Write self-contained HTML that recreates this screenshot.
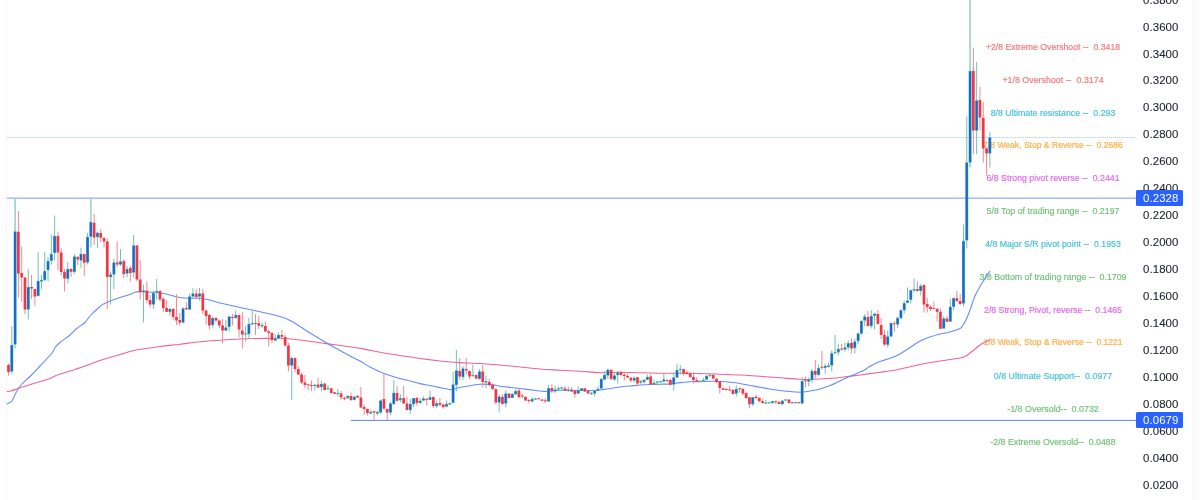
<!DOCTYPE html><html><head><meta charset="utf-8"><title>Chart</title><style>
html,body{margin:0;padding:0;background:#fff;}
.ax,.lb{will-change:transform;transform:translateZ(0);}
body{width:1200px;height:500px;overflow:hidden;position:relative;font-family:"Liberation Sans",sans-serif;}
.ax{position:absolute;left:1143.2px;width:44px;height:14px;line-height:14px;font-size:11.4px;color:#1f232e;white-space:pre;letter-spacing:0.1px;-webkit-text-stroke:0.12px currentColor}
.lb{position:absolute;left:953px;width:200px;text-align:center;height:12px;line-height:12px;font-size:8.6px;white-space:pre;-webkit-text-stroke:0.18px currentColor;}
.lb span{display:inline-block;transform-origin:50% 50%;}
.tag{position:absolute;left:1136px;width:47px;height:15.5px;background:#2962ff;border-radius:1.5px;}
</style></head><body>
<div class="ax" style="top:-6.6px">0.3800</div>
<div class="ax" style="top:20.4px">0.3600</div>
<div class="ax" style="top:47.4px">0.3400</div>
<div class="ax" style="top:73.4px">0.3200</div>
<div class="ax" style="top:100.4px">0.3000</div>
<div class="ax" style="top:127.4px">0.2800</div>
<div class="ax" style="top:154.4px">0.2600</div>
<div class="ax" style="top:181.4px">0.2400</div>
<div class="ax" style="top:208.4px">0.2200</div>
<div class="ax" style="top:235.4px">0.2000</div>
<div class="ax" style="top:262.4px">0.1800</div>
<div class="ax" style="top:289.4px">0.1600</div>
<div class="ax" style="top:316.4px">0.1400</div>
<div class="ax" style="top:343.4px">0.1200</div>
<div class="ax" style="top:370.4px">0.1000</div>
<div class="ax" style="top:397.4px">0.0800</div>
<div class="ax" style="top:424.4px">0.0600</div>
<div class="ax" style="top:451.4px">0.0400</div>
<div class="ax" style="top:478.4px">0.0200</div>
<div class="lb" style="top:40px;color:#f7767b;font-size:8.719px;transform:translate3d(0,0.50px,0)"><span>+2/8 Extreme Overshoot --  0.3418</span></div>
<div class="lb" style="top:73px;color:#f7767b;font-size:8.865px;transform:translate3d(0,0.50px,0)"><span>+1/8 Overshoot --  0.3174</span></div>
<div class="lb" style="top:106px;color:#46c1d8;font-size:8.811px;transform:translate3d(0,0.50px,0)"><span>8/8 Ultimate resistance --  0.293</span></div>
<div class="lb" style="top:139px;color:#ffad44;font-size:8.570px;transform:translate3d(0,0.10px,0)"><span>7/8 Weak, Stop &amp; Reverse --  0.2686</span></div>
<div class="lb" style="top:171px;color:#e267f1;font-size:8.770px;transform:translate3d(0,0.90px,0)"><span>6/8 Strong pivot reverse --  0.2441</span></div>
<div class="lb" style="top:204px;color:#71c278;font-size:8.812px;transform:translate3d(0,0.90px,0)"><span>5/8 Top of trading range --  0.2197</span></div>
<div class="lb" style="top:237px;color:#46c1d8;font-size:8.750px;transform:translate3d(0,0.90px,0)"><span>4/8 Major S/R pivot point --  0.1953</span></div>
<div class="lb" style="top:270px;color:#71c278;font-size:8.820px;transform:translate3d(0,0.90px,0)"><span>3/8 Bottom of trading range --  0.1709</span></div>
<div class="lb" style="top:303px;color:#e267f1;font-size:8.717px;transform:translate3d(0,0.50px,0)"><span>2/8 Strong, Pivot, reverse --  0.1465</span></div>
<div class="lb" style="top:336px;color:#ffad44;font-size:8.521px;transform:translate3d(0,0.10px,0)"><span>1/8 Weak, Stop &amp; Reverse --  0.1221</span></div>
<div class="lb" style="top:369px;color:#46c1d8;font-size:8.845px;transform:translate3d(0,0.50px,0)"><span>0/8 Ultimate Support--  0.0977</span></div>
<div class="lb" style="top:402px;color:#71c278;font-size:8.914px;transform:translate3d(0,0.50px,0)"><span>-1/8 Oversold--  0.0732</span></div>
<div class="lb" style="top:435px;color:#71c278;font-size:8.785px;transform:translate3d(0,0.50px,0)"><span>-2/8 Extreme Oversold--  0.0488</span></div>
<svg width="1200" height="500" viewBox="0 0 1200 500" style="position:absolute;left:0;top:0">
<rect x="6" y="0" width="1" height="500" fill="#f6f6f7"/>
<rect x="1194" y="0" width="6" height="500" fill="#fcfcfc"/><rect x="1193" y="0" width="1" height="500" fill="#f2f2f3"/>
<rect x="7" y="137" width="1129" height="1" fill="#eaeffe"/><line x1="7" y1="137.5" x2="1136" y2="137.5" stroke="#bfcdfb" stroke-width="1" stroke-dasharray="1 1"/>
<rect x="7" y="197.4" width="1129" height="1.6" fill="#a9befc"/>
<rect x="351" y="419.85" width="785" height="1.15" fill="#7093fb"/>
<path d="M7.0 391.5 C7.7 391.4 8.8 391.6 11.0 391.0 C13.2 390.4 16.0 389.1 20.0 387.8 C24.0 386.5 30.0 384.6 35.0 383.0 C40.0 381.4 46.5 379.8 50.0 378.5 C53.5 377.2 52.7 376.8 56.0 375.5 C59.3 374.2 65.2 372.6 70.0 371.0 C74.8 369.4 80.0 367.8 85.0 366.0 C90.0 364.2 94.2 362.4 100.0 360.5 C105.8 358.6 113.8 356.3 120.0 354.5 C126.2 352.7 130.3 351.1 137.0 349.8 C143.7 348.5 152.8 347.4 160.0 346.5 C167.2 345.6 173.3 345.0 180.0 344.2 C186.7 343.4 193.3 342.5 200.0 341.8 C206.7 341.1 213.3 340.7 220.0 340.2 C226.7 339.7 233.3 339.3 240.0 339.0 C246.7 338.7 253.3 338.6 260.0 338.5 C266.7 338.4 273.3 338.1 280.0 338.3 C286.7 338.6 293.3 339.3 300.0 340.0 C306.7 340.7 313.3 341.8 320.0 342.7 C326.7 343.6 333.3 344.6 340.0 345.5 C346.7 346.4 353.3 347.3 360.0 348.4 C366.7 349.5 373.3 351.1 380.0 352.3 C386.7 353.5 393.3 354.5 400.0 355.5 C406.7 356.5 413.3 357.6 420.0 358.5 C426.7 359.4 435.0 360.4 440.0 361.0 C445.0 361.6 446.7 361.7 450.0 362.0 C453.3 362.3 455.0 362.4 460.0 362.6 C465.0 362.9 473.3 363.1 480.0 363.5 C486.7 363.9 493.3 364.4 500.0 365.0 C506.7 365.6 513.3 366.3 520.0 367.0 C526.7 367.7 533.3 368.5 540.0 369.0 C546.7 369.5 553.3 369.8 560.0 370.2 C566.7 370.6 573.3 370.9 580.0 371.3 C586.7 371.7 593.3 372.5 600.0 372.7 C606.7 372.9 613.3 372.3 620.0 372.3 C626.7 372.3 633.3 372.7 640.0 372.8 C646.7 372.9 653.3 373.1 660.0 373.2 C666.7 373.3 673.3 373.1 680.0 373.2 C686.7 373.2 693.3 373.3 700.0 373.5 C706.7 373.7 713.3 373.9 720.0 374.2 C726.7 374.4 733.3 374.6 740.0 375.0 C746.7 375.4 753.3 375.8 760.0 376.3 C766.7 376.8 773.3 377.3 780.0 377.8 C786.7 378.3 795.0 379.0 800.0 379.3 C805.0 379.6 806.7 379.6 810.0 379.5 C813.3 379.4 816.7 379.2 820.0 379.0 C823.3 378.8 826.7 378.6 830.0 378.3 C833.3 378.1 835.0 378.1 840.0 377.5 C845.0 376.9 853.3 375.9 860.0 375.0 C866.7 374.1 874.0 373.1 880.0 372.3 C886.0 371.5 891.0 370.9 896.0 370.0 C901.0 369.1 906.0 367.7 910.0 366.8 C914.0 365.9 915.0 365.5 920.0 364.5 C925.0 363.5 933.3 362.1 940.0 361.0 C946.7 359.9 955.7 358.8 960.0 358.0 C964.3 357.2 964.3 356.8 966.0 356.0 C967.7 355.2 968.5 354.2 970.0 353.0 C971.5 351.8 973.3 350.3 975.0 349.0 C976.7 347.7 978.3 346.2 980.0 345.0 C981.7 343.8 983.3 342.9 985.0 342.0 C986.7 341.1 989.2 340.2 990.0 339.8" fill="none" stroke="#f06491" stroke-width="1.1"/>
<path d="M7.0 404.0 C7.8 403.5 10.7 402.6 12.0 401.0 C13.3 399.4 13.5 397.2 15.0 394.5 C16.5 391.8 18.5 388.0 21.0 385.0 C23.5 382.0 26.8 379.7 30.0 376.5 C33.2 373.3 36.3 369.9 40.0 366.0 C43.7 362.1 49.5 356.1 52.0 353.0 C54.5 349.9 53.7 349.2 55.0 347.5 C56.3 345.8 57.5 344.6 60.0 342.5 C62.5 340.4 67.3 337.2 70.0 335.0 C72.7 332.8 73.5 331.1 76.0 329.0 C78.5 326.9 82.7 324.7 85.0 322.5 C87.3 320.3 87.5 318.7 90.0 316.0 C92.5 313.3 97.5 308.6 100.0 306.5 C102.5 304.4 101.7 304.7 105.0 303.2 C108.3 301.7 115.8 298.9 120.0 297.5 C124.2 296.1 127.5 295.4 130.0 294.5 C132.5 293.6 133.3 292.8 135.0 292.3 C136.7 291.8 137.5 291.6 140.0 291.6 C142.5 291.6 146.7 292.0 150.0 292.2 C153.3 292.4 156.7 292.5 160.0 293.0 C163.3 293.5 166.7 294.2 170.0 295.0 C173.3 295.8 176.7 296.9 180.0 297.5 C183.3 298.1 186.7 298.2 190.0 298.3 C193.3 298.4 196.7 297.9 200.0 298.2 C203.3 298.5 206.7 299.2 210.0 300.0 C213.3 300.8 216.7 302.1 220.0 303.0 C223.3 303.9 226.7 304.4 230.0 305.2 C233.3 305.9 236.3 306.7 240.0 307.5 C243.7 308.3 247.0 308.9 252.0 310.0 C257.0 311.1 264.7 312.7 270.0 314.0 C275.3 315.3 280.3 316.6 284.0 317.8 C287.7 319.1 289.3 320.1 292.0 321.5 C294.7 322.9 297.0 324.6 300.0 326.5 C303.0 328.4 306.7 330.9 310.0 333.0 C313.3 335.1 316.7 337.0 320.0 339.0 C323.3 341.0 326.7 343.1 330.0 345.0 C333.3 346.9 336.7 348.7 340.0 350.5 C343.3 352.3 346.7 354.2 350.0 356.0 C353.3 357.8 356.7 359.2 360.0 361.0 C363.3 362.8 366.0 364.9 370.0 367.0 C374.0 369.1 379.0 371.6 384.0 373.5 C389.0 375.4 395.7 377.2 400.0 378.5 C404.3 379.8 406.7 380.1 410.0 381.0 C413.3 381.9 416.7 382.9 420.0 383.6 C423.3 384.4 426.7 384.8 430.0 385.5 C433.3 386.2 436.7 386.9 440.0 387.6 C443.3 388.3 447.8 389.3 450.0 389.6 C452.2 389.9 451.3 389.9 453.0 389.5 C454.7 389.1 457.2 388.1 460.0 387.5 C462.8 386.9 466.7 386.4 470.0 385.8 C473.3 385.2 476.3 384.4 480.0 384.2 C483.7 384.0 488.7 384.3 492.0 384.6 C495.3 384.9 495.3 385.6 500.0 386.2 C504.7 386.8 513.3 387.7 520.0 388.5 C526.7 389.3 535.5 390.5 540.0 391.0 C544.5 391.5 545.0 391.5 547.0 391.5 C549.0 391.5 549.8 391.2 552.0 391.0 C554.2 390.8 555.3 390.4 560.0 390.3 C564.7 390.2 575.0 390.5 580.0 390.5 C585.0 390.5 586.7 390.6 590.0 390.5 C593.3 390.4 596.7 390.3 600.0 390.0 C603.3 389.7 606.7 389.0 610.0 388.5 C613.3 388.0 616.7 387.4 620.0 387.0 C623.3 386.6 626.7 386.3 630.0 386.0 C633.3 385.7 636.7 385.2 640.0 385.0 C643.3 384.8 646.7 384.6 650.0 384.5 C653.3 384.4 656.7 384.3 660.0 384.2 C663.3 384.1 666.7 384.3 670.0 384.0 C673.3 383.7 676.7 383.0 680.0 382.6 C683.3 382.2 686.7 382.0 690.0 381.8 C693.3 381.6 696.7 381.6 700.0 381.5 C703.3 381.4 706.7 381.2 710.0 381.2 C713.3 381.2 716.7 381.3 720.0 381.5 C723.3 381.7 726.7 381.9 730.0 382.2 C733.3 382.5 736.7 382.9 740.0 383.5 C743.3 384.1 746.7 384.9 750.0 385.5 C753.3 386.1 756.7 386.6 760.0 387.2 C763.3 387.8 766.7 388.4 770.0 389.0 C773.3 389.6 776.7 390.1 780.0 390.5 C783.3 390.9 786.7 391.2 790.0 391.5 C793.3 391.8 797.5 392.1 800.0 392.2 C802.5 392.2 803.3 392.0 805.0 391.8 C806.7 391.6 807.5 391.5 810.0 391.0 C812.5 390.5 816.7 389.9 820.0 389.0 C823.3 388.1 826.7 386.8 830.0 385.5 C833.3 384.2 836.7 382.5 840.0 381.0 C843.3 379.5 845.9 378.1 850.0 376.3 C854.1 374.5 861.2 371.7 864.5 370.0 C867.8 368.3 867.4 367.7 870.0 366.3 C872.6 364.9 876.7 362.8 880.0 361.5 C883.3 360.2 886.7 359.6 890.0 358.3 C893.3 357.1 896.7 355.8 900.0 354.0 C903.3 352.2 906.7 349.7 910.0 347.5 C913.3 345.3 916.7 342.8 920.0 341.0 C923.3 339.2 926.7 338.2 930.0 337.0 C933.3 335.8 937.0 334.8 940.0 334.0 C943.0 333.2 944.7 333.4 948.0 332.5 C951.3 331.6 957.5 329.8 960.0 328.5 C962.5 327.2 962.0 326.4 963.0 325.0 C964.0 323.6 964.8 322.5 966.0 320.0 C967.2 317.5 968.5 314.0 970.0 310.0 C971.5 306.0 973.3 299.9 975.0 296.0 C976.7 292.1 978.3 289.4 980.0 286.5 C981.7 283.6 983.3 281.1 985.0 278.5 C986.7 275.9 989.2 272.2 990.0 271.0" fill="none" stroke="#648cfb" stroke-width="1.1"/>
<rect x="8.01" y="363.5" width="1.0" height="12.0" fill="#f48792"/>
<rect x="11.31" y="326.0" width="1.0" height="48.0" fill="#72c2b2"/>
<rect x="14.20" y="198.0" width="1.8" height="150.5" fill="#a3d8cc"/>
<rect x="17.89" y="211.0" width="1.0" height="86.5" fill="#f48792"/>
<rect x="21.19" y="246.5" width="1.0" height="55.0" fill="#f48792"/>
<rect x="24.48" y="277.0" width="1.0" height="37.0" fill="#f48792"/>
<rect x="27.77" y="269.0" width="1.0" height="50.5" fill="#72c2b2"/>
<rect x="31.06" y="275.0" width="1.0" height="24.0" fill="#f48792"/>
<rect x="34.36" y="289.0" width="1.0" height="16.5" fill="#f48792"/>
<rect x="37.65" y="252.0" width="1.0" height="44.0" fill="#72c2b2"/>
<rect x="40.94" y="275.0" width="1.0" height="14.5" fill="#72c2b2"/>
<rect x="44.24" y="252.0" width="1.0" height="29.0" fill="#72c2b2"/>
<rect x="47.53" y="257.0" width="1.0" height="24.5" fill="#72c2b2"/>
<rect x="50.82" y="234.5" width="1.0" height="30.0" fill="#72c2b2"/>
<rect x="54.12" y="215.5" width="1.0" height="45.0" fill="#72c2b2"/>
<rect x="57.41" y="232.0" width="1.0" height="38.0" fill="#f48792"/>
<rect x="60.70" y="248.5" width="1.0" height="27.0" fill="#f48792"/>
<rect x="64.00" y="269.0" width="1.0" height="22.5" fill="#f48792"/>
<rect x="67.29" y="262.0" width="1.0" height="21.5" fill="#72c2b2"/>
<rect x="70.58" y="268.0" width="1.0" height="9.0" fill="#f48792"/>
<rect x="73.87" y="254.0" width="1.0" height="20.0" fill="#72c2b2"/>
<rect x="77.17" y="256.8" width="1.0" height="8.2" fill="#f48792"/>
<rect x="80.46" y="247.5" width="1.0" height="20.5" fill="#72c2b2"/>
<rect x="83.75" y="254.0" width="1.0" height="22.0" fill="#f48792"/>
<rect x="87.05" y="233.0" width="1.0" height="31.5" fill="#72c2b2"/>
<rect x="89.94" y="197.5" width="1.8" height="50.0" fill="#a3d8cc"/>
<rect x="93.63" y="214.0" width="1.0" height="31.0" fill="#f48792"/>
<rect x="96.92" y="231.5" width="1.0" height="16.5" fill="#72c2b2"/>
<rect x="100.22" y="229.0" width="1.0" height="13.0" fill="#f48792"/>
<rect x="103.51" y="237.0" width="1.0" height="10.5" fill="#f48792"/>
<rect x="106.80" y="238.5" width="1.0" height="70.5" fill="#f48792"/>
<rect x="110.10" y="271.5" width="1.0" height="33.0" fill="#72c2b2"/>
<rect x="113.39" y="258.5" width="1.0" height="30.5" fill="#72c2b2"/>
<rect x="116.68" y="241.5" width="1.0" height="25.5" fill="#f48792"/>
<rect x="119.98" y="249.0" width="1.0" height="17.0" fill="#72c2b2"/>
<rect x="123.27" y="259.0" width="1.0" height="19.0" fill="#f48792"/>
<rect x="126.56" y="266.0" width="1.0" height="11.5" fill="#72c2b2"/>
<rect x="129.86" y="266.0" width="1.0" height="15.5" fill="#f48792"/>
<rect x="133.15" y="235.0" width="1.0" height="42.5" fill="#72c2b2"/>
<rect x="136.44" y="245.0" width="1.0" height="36.0" fill="#f48792"/>
<rect x="139.73" y="260.5" width="1.0" height="39.0" fill="#f48792"/>
<rect x="143.03" y="284.5" width="1.0" height="38.0" fill="#72c2b2"/>
<rect x="146.32" y="281.5" width="1.0" height="21.0" fill="#f48792"/>
<rect x="149.61" y="295.0" width="1.0" height="12.5" fill="#f48792"/>
<rect x="152.91" y="290.5" width="1.0" height="18.5" fill="#72c2b2"/>
<rect x="156.20" y="279.0" width="1.0" height="20.5" fill="#72c2b2"/>
<rect x="159.49" y="290.0" width="1.0" height="11.5" fill="#f48792"/>
<rect x="162.78" y="297.0" width="1.0" height="15.0" fill="#f48792"/>
<rect x="166.08" y="300.0" width="1.0" height="12.0" fill="#f48792"/>
<rect x="169.37" y="308.0" width="1.0" height="7.5" fill="#72c2b2"/>
<rect x="172.66" y="308.0" width="1.0" height="12.0" fill="#f48792"/>
<rect x="175.96" y="294.0" width="1.0" height="31.0" fill="#f48792"/>
<rect x="179.25" y="313.0" width="1.0" height="12.5" fill="#f48792"/>
<rect x="182.54" y="307.0" width="1.0" height="16.5" fill="#72c2b2"/>
<rect x="185.84" y="302.0" width="1.0" height="8.0" fill="#f48792"/>
<rect x="189.13" y="293.5" width="1.0" height="16.5" fill="#72c2b2"/>
<rect x="192.42" y="288.0" width="1.0" height="10.0" fill="#72c2b2"/>
<rect x="195.72" y="289.0" width="1.0" height="9.5" fill="#f48792"/>
<rect x="199.01" y="288.0" width="1.0" height="12.5" fill="#72c2b2"/>
<rect x="202.30" y="289.0" width="1.0" height="25.0" fill="#f48792"/>
<rect x="205.59" y="309.5" width="1.0" height="15.0" fill="#f48792"/>
<rect x="208.89" y="314.0" width="1.0" height="15.5" fill="#f48792"/>
<rect x="212.18" y="316.5" width="1.0" height="11.0" fill="#72c2b2"/>
<rect x="215.47" y="317.0" width="1.0" height="5.5" fill="#f48792"/>
<rect x="218.77" y="319.5" width="1.0" height="8.5" fill="#f48792"/>
<rect x="222.06" y="319.0" width="1.0" height="24.5" fill="#f48792"/>
<rect x="225.35" y="320.0" width="1.0" height="11.0" fill="#72c2b2"/>
<rect x="228.65" y="316.0" width="1.0" height="15.5" fill="#72c2b2"/>
<rect x="231.94" y="314.0" width="1.0" height="11.5" fill="#f48792"/>
<rect x="235.23" y="310.5" width="1.0" height="8.0" fill="#72c2b2"/>
<rect x="238.52" y="314.5" width="1.0" height="23.0" fill="#f48792"/>
<rect x="241.82" y="312.0" width="1.0" height="36.5" fill="#f48792"/>
<rect x="245.11" y="326.0" width="1.0" height="15.5" fill="#72c2b2"/>
<rect x="248.40" y="317.5" width="1.0" height="20.5" fill="#72c2b2"/>
<rect x="251.70" y="310.5" width="1.0" height="14.5" fill="#72c2b2"/>
<rect x="254.99" y="314.0" width="1.0" height="21.0" fill="#f48792"/>
<rect x="258.28" y="316.0" width="1.0" height="13.0" fill="#f48792"/>
<rect x="261.58" y="323.0" width="1.0" height="5.0" fill="#72c2b2"/>
<rect x="264.87" y="321.5" width="1.0" height="10.5" fill="#f48792"/>
<rect x="268.16" y="330.0" width="1.0" height="16.5" fill="#f48792"/>
<rect x="271.45" y="332.0" width="1.0" height="11.0" fill="#f48792"/>
<rect x="274.75" y="334.0" width="1.0" height="7.5" fill="#72c2b2"/>
<rect x="278.04" y="332.5" width="1.0" height="6.5" fill="#72c2b2"/>
<rect x="281.33" y="330.0" width="1.0" height="8.5" fill="#f48792"/>
<rect x="284.63" y="335.0" width="1.0" height="11.5" fill="#f48792"/>
<rect x="287.92" y="343.0" width="1.0" height="28.5" fill="#f48792"/>
<rect x="291.21" y="356.5" width="1.0" height="43.5" fill="#72c2b2"/>
<rect x="294.51" y="357.5" width="1.0" height="15.0" fill="#f48792"/>
<rect x="297.80" y="366.5" width="1.0" height="8.5" fill="#f48792"/>
<rect x="301.09" y="372.5" width="1.0" height="11.5" fill="#f48792"/>
<rect x="304.38" y="375.0" width="1.0" height="13.0" fill="#f48792"/>
<rect x="307.68" y="383.5" width="1.0" height="6.5" fill="#f48792"/>
<rect x="310.97" y="380.5" width="1.0" height="10.5" fill="#f48792"/>
<rect x="314.26" y="384.0" width="1.0" height="6.5" fill="#72c2b2"/>
<rect x="317.56" y="378.0" width="1.0" height="10.0" fill="#f48792"/>
<rect x="320.85" y="380.5" width="1.0" height="11.0" fill="#72c2b2"/>
<rect x="324.14" y="383.0" width="1.0" height="7.5" fill="#f48792"/>
<rect x="327.44" y="385.0" width="1.0" height="5.0" fill="#72c2b2"/>
<rect x="330.73" y="387.5" width="1.0" height="6.0" fill="#f48792"/>
<rect x="334.02" y="392.0" width="1.0" height="2.0" fill="#f48792"/>
<rect x="337.31" y="389.0" width="1.0" height="7.5" fill="#72c2b2"/>
<rect x="340.61" y="391.0" width="1.0" height="9.5" fill="#f48792"/>
<rect x="343.90" y="396.5" width="1.0" height="3.5" fill="#f48792"/>
<rect x="347.19" y="395.0" width="1.0" height="3.5" fill="#72c2b2"/>
<rect x="350.49" y="392.5" width="1.0" height="8.5" fill="#f48792"/>
<rect x="353.78" y="395.5" width="1.0" height="5.0" fill="#72c2b2"/>
<rect x="357.07" y="395.0" width="1.0" height="3.0" fill="#f48792"/>
<rect x="360.37" y="387.0" width="1.0" height="21.0" fill="#f48792"/>
<rect x="363.66" y="404.5" width="1.0" height="10.5" fill="#f48792"/>
<rect x="366.95" y="408.5" width="1.0" height="7.0" fill="#f48792"/>
<rect x="370.24" y="409.5" width="1.0" height="4.5" fill="#72c2b2"/>
<rect x="373.54" y="411.0" width="1.0" height="9.0" fill="#f48792"/>
<rect x="376.83" y="410.5" width="1.0" height="5.0" fill="#72c2b2"/>
<rect x="380.12" y="399.5" width="1.0" height="14.5" fill="#72c2b2"/>
<rect x="383.42" y="373.5" width="1.0" height="37.0" fill="#f48792"/>
<rect x="386.71" y="408.5" width="1.0" height="11.5" fill="#f48792"/>
<rect x="390.00" y="402.0" width="1.0" height="13.0" fill="#72c2b2"/>
<rect x="393.30" y="380.0" width="1.0" height="25.0" fill="#72c2b2"/>
<rect x="396.59" y="386.0" width="1.0" height="15.5" fill="#f48792"/>
<rect x="399.88" y="394.0" width="1.0" height="8.5" fill="#72c2b2"/>
<rect x="403.17" y="386.0" width="1.0" height="18.0" fill="#f48792"/>
<rect x="406.47" y="397.0" width="1.0" height="13.5" fill="#f48792"/>
<rect x="409.76" y="399.0" width="1.0" height="15.0" fill="#72c2b2"/>
<rect x="413.05" y="398.0" width="1.0" height="9.0" fill="#72c2b2"/>
<rect x="416.35" y="397.0" width="1.0" height="8.5" fill="#f48792"/>
<rect x="419.64" y="398.0" width="1.0" height="5.5" fill="#72c2b2"/>
<rect x="422.93" y="396.5" width="1.0" height="4.5" fill="#72c2b2"/>
<rect x="426.23" y="398.0" width="1.0" height="7.5" fill="#f48792"/>
<rect x="429.52" y="390.5" width="1.0" height="9.5" fill="#72c2b2"/>
<rect x="432.81" y="396.5" width="1.0" height="11.5" fill="#f48792"/>
<rect x="436.10" y="401.0" width="1.0" height="7.0" fill="#72c2b2"/>
<rect x="439.40" y="398.0" width="1.0" height="8.5" fill="#f48792"/>
<rect x="442.69" y="404.0" width="1.0" height="4.5" fill="#f48792"/>
<rect x="445.98" y="400.5" width="1.0" height="7.0" fill="#72c2b2"/>
<rect x="449.28" y="403.0" width="1.0" height="2.0" fill="#72c2b2"/>
<rect x="452.57" y="372.0" width="1.0" height="31.0" fill="#72c2b2"/>
<rect x="455.86" y="350.0" width="1.0" height="41.0" fill="#72c2b2"/>
<rect x="459.16" y="358.0" width="1.0" height="22.0" fill="#f48792"/>
<rect x="462.45" y="366.0" width="1.0" height="14.5" fill="#72c2b2"/>
<rect x="465.74" y="358.0" width="1.0" height="16.5" fill="#f48792"/>
<rect x="469.03" y="370.5" width="1.0" height="8.5" fill="#f48792"/>
<rect x="472.33" y="364.5" width="1.0" height="12.0" fill="#72c2b2"/>
<rect x="475.62" y="374.5" width="1.0" height="5.0" fill="#f48792"/>
<rect x="478.91" y="369.0" width="1.0" height="10.5" fill="#72c2b2"/>
<rect x="482.21" y="365.0" width="1.0" height="22.5" fill="#f48792"/>
<rect x="485.50" y="376.0" width="1.0" height="12.0" fill="#72c2b2"/>
<rect x="488.79" y="379.0" width="1.0" height="7.5" fill="#f48792"/>
<rect x="492.09" y="383.5" width="1.0" height="6.0" fill="#f48792"/>
<rect x="495.38" y="388.5" width="1.0" height="16.0" fill="#f48792"/>
<rect x="498.67" y="394.5" width="1.0" height="18.0" fill="#72c2b2"/>
<rect x="501.96" y="394.0" width="1.0" height="10.5" fill="#f48792"/>
<rect x="505.26" y="390.5" width="1.0" height="17.0" fill="#72c2b2"/>
<rect x="508.55" y="393.0" width="1.0" height="5.5" fill="#f48792"/>
<rect x="511.84" y="393.0" width="1.0" height="5.0" fill="#72c2b2"/>
<rect x="515.14" y="389.5" width="1.0" height="5.5" fill="#72c2b2"/>
<rect x="518.43" y="389.0" width="1.0" height="9.5" fill="#f48792"/>
<rect x="521.72" y="393.5" width="1.0" height="5.0" fill="#f48792"/>
<rect x="525.01" y="396.0" width="1.0" height="5.0" fill="#f48792"/>
<rect x="528.31" y="399.0" width="1.0" height="4.0" fill="#f48792"/>
<rect x="531.60" y="397.0" width="1.0" height="5.0" fill="#72c2b2"/>
<rect x="534.89" y="398.0" width="1.0" height="2.0" fill="#72c2b2"/>
<rect x="538.19" y="397.5" width="1.0" height="2.0" fill="#f48792"/>
<rect x="541.48" y="399.0" width="1.0" height="2.0" fill="#f48792"/>
<rect x="544.77" y="398.0" width="1.0" height="5.0" fill="#f48792"/>
<rect x="548.07" y="385.0" width="1.0" height="17.0" fill="#72c2b2"/>
<rect x="551.36" y="384.0" width="1.0" height="9.0" fill="#f48792"/>
<rect x="554.65" y="386.0" width="1.0" height="7.0" fill="#72c2b2"/>
<rect x="557.95" y="386.5" width="1.0" height="4.0" fill="#72c2b2"/>
<rect x="561.24" y="386.5" width="1.0" height="3.0" fill="#72c2b2"/>
<rect x="564.53" y="386.0" width="1.0" height="5.0" fill="#f48792"/>
<rect x="567.82" y="386.5" width="1.0" height="5.5" fill="#72c2b2"/>
<rect x="571.12" y="387.0" width="1.0" height="5.0" fill="#f48792"/>
<rect x="574.41" y="390.0" width="1.0" height="7.5" fill="#f48792"/>
<rect x="577.70" y="386.5" width="1.0" height="7.5" fill="#72c2b2"/>
<rect x="581.00" y="388.0" width="1.0" height="3.0" fill="#72c2b2"/>
<rect x="584.29" y="388.0" width="1.0" height="4.0" fill="#f48792"/>
<rect x="587.58" y="390.5" width="1.0" height="3.5" fill="#f48792"/>
<rect x="590.88" y="392.0" width="1.0" height="3.0" fill="#72c2b2"/>
<rect x="594.17" y="390.0" width="1.0" height="6.5" fill="#72c2b2"/>
<rect x="597.46" y="386.5" width="1.0" height="4.5" fill="#72c2b2"/>
<rect x="600.75" y="378.0" width="1.0" height="11.0" fill="#72c2b2"/>
<rect x="604.05" y="371.0" width="1.0" height="9.5" fill="#72c2b2"/>
<rect x="607.34" y="368.5" width="1.0" height="10.5" fill="#72c2b2"/>
<rect x="610.63" y="369.5" width="1.0" height="11.0" fill="#f48792"/>
<rect x="613.93" y="372.5" width="1.0" height="8.5" fill="#72c2b2"/>
<rect x="617.22" y="371.0" width="1.0" height="12.5" fill="#72c2b2"/>
<rect x="620.51" y="371.0" width="1.0" height="5.5" fill="#f48792"/>
<rect x="623.81" y="372.5" width="1.0" height="8.0" fill="#f48792"/>
<rect x="627.10" y="374.0" width="1.0" height="4.0" fill="#f48792"/>
<rect x="630.39" y="377.0" width="1.0" height="5.0" fill="#f48792"/>
<rect x="633.68" y="376.5" width="1.0" height="6.0" fill="#72c2b2"/>
<rect x="636.98" y="377.0" width="1.0" height="9.5" fill="#f48792"/>
<rect x="640.27" y="380.0" width="1.0" height="4.5" fill="#72c2b2"/>
<rect x="643.56" y="379.0" width="1.0" height="4.5" fill="#72c2b2"/>
<rect x="646.86" y="374.5" width="1.0" height="5.5" fill="#72c2b2"/>
<rect x="650.15" y="374.5" width="1.0" height="10.5" fill="#f48792"/>
<rect x="653.44" y="379.5" width="1.0" height="5.5" fill="#72c2b2"/>
<rect x="656.74" y="381.0" width="1.0" height="4.5" fill="#72c2b2"/>
<rect x="660.03" y="380.8" width="1.0" height="1.7" fill="#72c2b2"/>
<rect x="663.32" y="373.0" width="1.0" height="9.5" fill="#72c2b2"/>
<rect x="666.61" y="379.5" width="1.0" height="2.5" fill="#f48792"/>
<rect x="669.91" y="378.5" width="1.0" height="7.0" fill="#f48792"/>
<rect x="673.20" y="372.5" width="1.0" height="18.0" fill="#72c2b2"/>
<rect x="676.49" y="364.0" width="1.0" height="14.5" fill="#72c2b2"/>
<rect x="679.79" y="365.0" width="1.0" height="9.5" fill="#72c2b2"/>
<rect x="683.08" y="368.5" width="1.0" height="7.0" fill="#f48792"/>
<rect x="686.37" y="370.5" width="1.0" height="4.0" fill="#f48792"/>
<rect x="689.67" y="372.5" width="1.0" height="5.0" fill="#f48792"/>
<rect x="692.96" y="372.5" width="1.0" height="11.0" fill="#f48792"/>
<rect x="696.25" y="377.0" width="1.0" height="5.0" fill="#f48792"/>
<rect x="699.54" y="380.5" width="1.0" height="1.8" fill="#72c2b2"/>
<rect x="702.84" y="377.5" width="1.0" height="4.5" fill="#72c2b2"/>
<rect x="706.13" y="375.0" width="1.0" height="5.0" fill="#72c2b2"/>
<rect x="709.42" y="374.5" width="1.0" height="3.0" fill="#72c2b2"/>
<rect x="712.72" y="374.0" width="1.0" height="5.5" fill="#f48792"/>
<rect x="716.01" y="378.0" width="1.0" height="5.0" fill="#f48792"/>
<rect x="719.30" y="381.0" width="1.0" height="12.5" fill="#f48792"/>
<rect x="722.60" y="388.0" width="1.0" height="2.0" fill="#f48792"/>
<rect x="725.89" y="388.5" width="1.0" height="1.8" fill="#f48792"/>
<rect x="729.18" y="386.0" width="1.0" height="4.8" fill="#f48792"/>
<rect x="732.47" y="389.5" width="1.0" height="5.0" fill="#f48792"/>
<rect x="735.77" y="385.5" width="1.0" height="11.0" fill="#72c2b2"/>
<rect x="739.06" y="388.0" width="1.0" height="4.5" fill="#f48792"/>
<rect x="742.35" y="388.5" width="1.0" height="7.0" fill="#f48792"/>
<rect x="745.65" y="391.5" width="1.0" height="7.5" fill="#f48792"/>
<rect x="748.94" y="397.0" width="1.0" height="11.0" fill="#f48792"/>
<rect x="752.23" y="396.8" width="1.0" height="9.2" fill="#72c2b2"/>
<rect x="755.53" y="394.5" width="1.0" height="5.0" fill="#f48792"/>
<rect x="758.82" y="397.5" width="1.0" height="4.7" fill="#f48792"/>
<rect x="762.11" y="399.0" width="1.0" height="4.5" fill="#f48792"/>
<rect x="765.40" y="400.0" width="1.0" height="4.0" fill="#72c2b2"/>
<rect x="768.70" y="401.8" width="1.0" height="1.6" fill="#72c2b2"/>
<rect x="771.99" y="400.8" width="1.0" height="2.6" fill="#72c2b2"/>
<rect x="775.28" y="400.5" width="1.0" height="3.5" fill="#f48792"/>
<rect x="778.58" y="401.5" width="1.0" height="2.8" fill="#f48792"/>
<rect x="781.87" y="400.0" width="1.0" height="4.5" fill="#72c2b2"/>
<rect x="785.16" y="399.2" width="1.0" height="1.8" fill="#72c2b2"/>
<rect x="788.46" y="399.2" width="1.0" height="4.1" fill="#f48792"/>
<rect x="791.75" y="401.8" width="1.0" height="1.7" fill="#f48792"/>
<rect x="795.04" y="401.8" width="1.0" height="1.6" fill="#72c2b2"/>
<rect x="798.33" y="401.8" width="1.0" height="1.7" fill="#f48792"/>
<rect x="801.63" y="377.0" width="1.0" height="27.0" fill="#72c2b2"/>
<rect x="804.92" y="376.5" width="1.0" height="11.0" fill="#f48792"/>
<rect x="808.21" y="377.5" width="1.0" height="9.0" fill="#72c2b2"/>
<rect x="811.51" y="369.0" width="1.0" height="13.5" fill="#72c2b2"/>
<rect x="814.80" y="360.0" width="1.0" height="18.0" fill="#f48792"/>
<rect x="818.09" y="364.5" width="1.0" height="12.0" fill="#72c2b2"/>
<rect x="821.39" y="351.0" width="1.0" height="19.0" fill="#f48792"/>
<rect x="824.68" y="363.5" width="1.0" height="10.0" fill="#72c2b2"/>
<rect x="827.97" y="362.5" width="1.0" height="5.0" fill="#72c2b2"/>
<rect x="831.26" y="350.5" width="1.0" height="21.0" fill="#72c2b2"/>
<rect x="834.56" y="335.0" width="1.0" height="19.5" fill="#72c2b2"/>
<rect x="837.85" y="343.5" width="1.0" height="12.0" fill="#72c2b2"/>
<rect x="841.14" y="344.0" width="1.0" height="7.0" fill="#f48792"/>
<rect x="844.44" y="342.5" width="1.0" height="9.0" fill="#72c2b2"/>
<rect x="847.73" y="340.5" width="1.0" height="10.0" fill="#72c2b2"/>
<rect x="851.02" y="338.5" width="1.0" height="15.0" fill="#f48792"/>
<rect x="854.32" y="338.5" width="1.0" height="15.0" fill="#72c2b2"/>
<rect x="857.61" y="332.5" width="1.0" height="12.0" fill="#72c2b2"/>
<rect x="860.90" y="320.0" width="1.0" height="15.0" fill="#72c2b2"/>
<rect x="864.19" y="314.0" width="1.0" height="12.0" fill="#72c2b2"/>
<rect x="867.49" y="311.0" width="1.0" height="15.5" fill="#f48792"/>
<rect x="870.78" y="310.0" width="1.0" height="18.5" fill="#72c2b2"/>
<rect x="874.07" y="312.5" width="1.0" height="17.0" fill="#72c2b2"/>
<rect x="877.37" y="310.0" width="1.0" height="14.5" fill="#f48792"/>
<rect x="880.66" y="318.0" width="1.0" height="21.0" fill="#f48792"/>
<rect x="883.95" y="330.0" width="1.0" height="16.0" fill="#f48792"/>
<rect x="887.25" y="330.5" width="1.0" height="17.0" fill="#72c2b2"/>
<rect x="890.54" y="322.5" width="1.0" height="14.5" fill="#72c2b2"/>
<rect x="893.83" y="321.0" width="1.0" height="10.5" fill="#f48792"/>
<rect x="897.12" y="316.5" width="1.0" height="11.5" fill="#72c2b2"/>
<rect x="900.42" y="309.5" width="1.0" height="9.0" fill="#72c2b2"/>
<rect x="903.71" y="300.5" width="1.0" height="13.0" fill="#72c2b2"/>
<rect x="907.00" y="287.5" width="1.0" height="15.5" fill="#72c2b2"/>
<rect x="910.30" y="289.5" width="1.0" height="14.0" fill="#72c2b2"/>
<rect x="913.59" y="278.5" width="1.0" height="14.0" fill="#72c2b2"/>
<rect x="916.88" y="281.0" width="1.0" height="10.5" fill="#f48792"/>
<rect x="920.18" y="284.0" width="1.0" height="11.5" fill="#72c2b2"/>
<rect x="923.47" y="284.5" width="1.0" height="28.0" fill="#f48792"/>
<rect x="926.76" y="298.0" width="1.0" height="14.5" fill="#f48792"/>
<rect x="930.05" y="305.0" width="1.0" height="6.0" fill="#f48792"/>
<rect x="933.35" y="301.5" width="1.0" height="7.7" fill="#f48792"/>
<rect x="936.64" y="308.5" width="1.0" height="13.0" fill="#f48792"/>
<rect x="939.93" y="308.5" width="1.0" height="20.5" fill="#f48792"/>
<rect x="943.23" y="316.0" width="1.0" height="13.0" fill="#72c2b2"/>
<rect x="946.52" y="316.0" width="1.0" height="6.0" fill="#f48792"/>
<rect x="949.81" y="299.0" width="1.0" height="23.0" fill="#72c2b2"/>
<rect x="953.11" y="297.5" width="1.0" height="13.0" fill="#72c2b2"/>
<rect x="956.40" y="291.0" width="1.0" height="11.5" fill="#f48792"/>
<rect x="959.69" y="294.0" width="1.0" height="11.0" fill="#f48792"/>
<rect x="962.98" y="224.5" width="1.0" height="82.0" fill="#72c2b2"/>
<rect x="966.28" y="116.5" width="1.0" height="132.0" fill="#72c2b2"/>
<rect x="969.17" y="0.0" width="1.8" height="167.5" fill="#a3d8cc"/>
<rect x="972.86" y="47.5" width="1.0" height="106.5" fill="#f48792"/>
<rect x="976.16" y="62.0" width="1.0" height="92.0" fill="#72c2b2"/>
<rect x="979.45" y="87.0" width="1.0" height="43.5" fill="#f48792"/>
<rect x="982.74" y="102.0" width="1.0" height="60.5" fill="#f48792"/>
<rect x="986.04" y="147.0" width="1.0" height="28.5" fill="#f48792"/>
<rect x="989.33" y="132.0" width="1.0" height="35.5" fill="#72c2b2"/>
<rect x="7.16" y="365.0" width="2.7" height="7.0" fill="#f23645"/>
<rect x="10.36" y="344.9" width="2.9" height="26.8" fill="#52b2a0"/>
<rect x="10.76" y="345.4" width="2.1" height="25.6" fill="#1767d9"/>
<rect x="13.65" y="231.3" width="2.9" height="113.3" fill="#52b2a0"/>
<rect x="14.05" y="231.9" width="2.1" height="112.1" fill="#1767d9"/>
<rect x="17.04" y="231.8" width="2.7" height="41.7" fill="#f23645"/>
<rect x="20.34" y="273.0" width="2.7" height="4.5" fill="#f23645"/>
<rect x="23.63" y="277.5" width="2.7" height="32.0" fill="#f23645"/>
<rect x="26.82" y="286.9" width="2.9" height="22.8" fill="#52b2a0"/>
<rect x="27.22" y="287.4" width="2.1" height="21.6" fill="#1767d9"/>
<rect x="30.21" y="287.0" width="2.7" height="1.5" fill="#f23645"/>
<rect x="33.51" y="289.0" width="2.7" height="7.5" fill="#f23645"/>
<rect x="36.70" y="280.9" width="2.9" height="15.3" fill="#52b2a0"/>
<rect x="37.10" y="281.4" width="2.1" height="14.1" fill="#1767d9"/>
<rect x="39.99" y="279.9" width="2.9" height="1.8" fill="#52b2a0"/>
<rect x="40.39" y="280.4" width="2.1" height="0.6" fill="#1767d9"/>
<rect x="43.29" y="270.9" width="2.9" height="9.3" fill="#52b2a0"/>
<rect x="43.69" y="271.4" width="2.1" height="8.1" fill="#1767d9"/>
<rect x="46.58" y="260.9" width="2.9" height="9.3" fill="#52b2a0"/>
<rect x="46.98" y="261.4" width="2.1" height="8.1" fill="#1767d9"/>
<rect x="49.87" y="253.8" width="2.9" height="7.1" fill="#52b2a0"/>
<rect x="50.27" y="254.4" width="2.1" height="5.9" fill="#1767d9"/>
<rect x="53.17" y="235.8" width="2.9" height="17.3" fill="#52b2a0"/>
<rect x="53.57" y="236.4" width="2.1" height="16.1" fill="#1767d9"/>
<rect x="56.56" y="236.0" width="2.7" height="16.5" fill="#f23645"/>
<rect x="59.85" y="252.5" width="2.7" height="19.5" fill="#f23645"/>
<rect x="63.15" y="272.0" width="2.7" height="6.5" fill="#f23645"/>
<rect x="66.34" y="268.9" width="2.9" height="10.1" fill="#52b2a0"/>
<rect x="66.74" y="269.4" width="2.1" height="8.9" fill="#1767d9"/>
<rect x="69.73" y="269.0" width="2.7" height="2.8" fill="#f23645"/>
<rect x="72.92" y="256.4" width="2.9" height="15.6" fill="#52b2a0"/>
<rect x="73.32" y="256.9" width="2.1" height="14.4" fill="#1767d9"/>
<rect x="76.32" y="256.8" width="2.7" height="2.7" fill="#f23645"/>
<rect x="79.51" y="253.8" width="2.9" height="6.8" fill="#52b2a0"/>
<rect x="79.91" y="254.4" width="2.1" height="5.6" fill="#1767d9"/>
<rect x="82.90" y="254.0" width="2.7" height="8.8" fill="#f23645"/>
<rect x="86.10" y="236.8" width="2.9" height="25.8" fill="#52b2a0"/>
<rect x="86.50" y="237.4" width="2.1" height="24.6" fill="#1767d9"/>
<rect x="89.39" y="221.8" width="2.9" height="15.1" fill="#52b2a0"/>
<rect x="89.79" y="222.4" width="2.1" height="13.9" fill="#1767d9"/>
<rect x="92.78" y="222.8" width="2.7" height="14.7" fill="#f23645"/>
<rect x="95.97" y="232.7" width="2.9" height="4.5" fill="#52b2a0"/>
<rect x="96.38" y="233.2" width="2.1" height="3.3" fill="#1767d9"/>
<rect x="99.37" y="233.0" width="2.7" height="4.8" fill="#f23645"/>
<rect x="102.66" y="238.0" width="2.7" height="3.5" fill="#f23645"/>
<rect x="105.95" y="241.5" width="2.7" height="35.5" fill="#f23645"/>
<rect x="109.15" y="274.4" width="2.9" height="2.8" fill="#52b2a0"/>
<rect x="109.55" y="274.9" width="2.1" height="1.6" fill="#1767d9"/>
<rect x="112.44" y="262.4" width="2.9" height="12.3" fill="#52b2a0"/>
<rect x="112.84" y="262.9" width="2.1" height="11.1" fill="#1767d9"/>
<rect x="115.83" y="262.5" width="2.7" height="2.0" fill="#f23645"/>
<rect x="119.03" y="261.4" width="2.9" height="3.3" fill="#52b2a0"/>
<rect x="119.43" y="261.9" width="2.1" height="2.1" fill="#1767d9"/>
<rect x="122.42" y="261.0" width="2.7" height="13.0" fill="#f23645"/>
<rect x="125.61" y="268.9" width="2.9" height="4.8" fill="#52b2a0"/>
<rect x="126.01" y="269.4" width="2.1" height="3.6" fill="#1767d9"/>
<rect x="129.01" y="268.0" width="2.7" height="5.0" fill="#f23645"/>
<rect x="132.20" y="245.3" width="2.9" height="27.3" fill="#52b2a0"/>
<rect x="132.60" y="245.9" width="2.1" height="26.1" fill="#1767d9"/>
<rect x="135.59" y="245.5" width="2.7" height="34.0" fill="#f23645"/>
<rect x="138.88" y="279.5" width="2.7" height="12.5" fill="#f23645"/>
<rect x="142.08" y="290.4" width="2.9" height="1.8" fill="#52b2a0"/>
<rect x="142.48" y="290.9" width="2.1" height="0.6" fill="#1767d9"/>
<rect x="145.47" y="290.5" width="2.7" height="9.5" fill="#f23645"/>
<rect x="148.76" y="300.0" width="2.7" height="4.5" fill="#f23645"/>
<rect x="151.96" y="292.9" width="2.9" height="11.8" fill="#52b2a0"/>
<rect x="152.36" y="293.4" width="2.1" height="10.6" fill="#1767d9"/>
<rect x="155.25" y="290.9" width="2.9" height="1.8" fill="#52b2a0"/>
<rect x="155.65" y="291.4" width="2.1" height="0.6" fill="#1767d9"/>
<rect x="158.64" y="291.0" width="2.7" height="8.5" fill="#f23645"/>
<rect x="161.94" y="299.0" width="2.7" height="9.0" fill="#f23645"/>
<rect x="165.23" y="308.0" width="2.7" height="3.8" fill="#f23645"/>
<rect x="168.42" y="308.9" width="2.9" height="3.1" fill="#52b2a0"/>
<rect x="168.82" y="309.4" width="2.1" height="1.9" fill="#1767d9"/>
<rect x="171.81" y="309.0" width="2.7" height="8.0" fill="#f23645"/>
<rect x="175.11" y="317.0" width="2.7" height="3.5" fill="#f23645"/>
<rect x="178.40" y="320.0" width="2.7" height="2.5" fill="#f23645"/>
<rect x="181.59" y="308.4" width="2.9" height="14.3" fill="#52b2a0"/>
<rect x="181.99" y="308.9" width="2.1" height="13.1" fill="#1767d9"/>
<rect x="184.99" y="308.0" width="2.7" height="1.2" fill="#f23645"/>
<rect x="188.18" y="296.4" width="2.9" height="13.3" fill="#52b2a0"/>
<rect x="188.58" y="296.9" width="2.1" height="12.1" fill="#1767d9"/>
<rect x="191.47" y="293.4" width="2.9" height="3.3" fill="#52b2a0"/>
<rect x="191.87" y="293.9" width="2.1" height="2.1" fill="#1767d9"/>
<rect x="194.87" y="293.5" width="2.7" height="3.5" fill="#f23645"/>
<rect x="198.06" y="293.4" width="2.9" height="3.3" fill="#52b2a0"/>
<rect x="198.46" y="293.9" width="2.1" height="2.1" fill="#1767d9"/>
<rect x="201.45" y="293.5" width="2.7" height="17.0" fill="#f23645"/>
<rect x="204.74" y="310.5" width="2.7" height="5.5" fill="#f23645"/>
<rect x="208.04" y="315.0" width="2.7" height="10.5" fill="#f23645"/>
<rect x="211.23" y="317.9" width="2.9" height="7.3" fill="#52b2a0"/>
<rect x="211.63" y="318.4" width="2.1" height="6.1" fill="#1767d9"/>
<rect x="214.62" y="318.0" width="2.7" height="2.5" fill="#f23645"/>
<rect x="217.92" y="320.5" width="2.7" height="5.0" fill="#f23645"/>
<rect x="221.21" y="325.5" width="2.7" height="5.0" fill="#f23645"/>
<rect x="224.40" y="327.4" width="2.9" height="3.3" fill="#52b2a0"/>
<rect x="224.80" y="327.9" width="2.1" height="2.1" fill="#1767d9"/>
<rect x="227.70" y="316.4" width="2.9" height="10.6" fill="#52b2a0"/>
<rect x="228.09" y="316.9" width="2.1" height="9.4" fill="#1767d9"/>
<rect x="231.09" y="317.0" width="2.7" height="1.0" fill="#f23645"/>
<rect x="234.28" y="314.9" width="2.9" height="3.3" fill="#52b2a0"/>
<rect x="234.68" y="315.4" width="2.1" height="2.1" fill="#1767d9"/>
<rect x="237.67" y="315.0" width="2.7" height="14.5" fill="#f23645"/>
<rect x="240.97" y="330.5" width="2.7" height="4.0" fill="#f23645"/>
<rect x="244.16" y="333.4" width="2.9" height="1.3" fill="#52b2a0"/>
<rect x="244.56" y="333.9" width="2.1" height="0.1" fill="#1767d9"/>
<rect x="247.45" y="323.9" width="2.9" height="10.3" fill="#52b2a0"/>
<rect x="247.85" y="324.4" width="2.1" height="9.1" fill="#1767d9"/>
<rect x="250.75" y="323.1" width="2.9" height="1.6" fill="#52b2a0"/>
<rect x="251.15" y="323.6" width="2.1" height="0.4" fill="#1767d9"/>
<rect x="254.14" y="323.0" width="2.7" height="1.0" fill="#f23645"/>
<rect x="257.43" y="323.2" width="2.7" height="2.6" fill="#f23645"/>
<rect x="260.63" y="324.9" width="2.9" height="1.5" fill="#52b2a0"/>
<rect x="261.03" y="325.4" width="2.1" height="0.3" fill="#1767d9"/>
<rect x="264.02" y="326.0" width="2.7" height="5.5" fill="#f23645"/>
<rect x="267.31" y="331.5" width="2.7" height="1.5" fill="#f23645"/>
<rect x="270.60" y="333.0" width="2.7" height="7.0" fill="#f23645"/>
<rect x="273.80" y="338.4" width="2.9" height="2.3" fill="#52b2a0"/>
<rect x="274.20" y="338.9" width="2.1" height="1.1" fill="#1767d9"/>
<rect x="277.09" y="334.9" width="2.9" height="3.8" fill="#52b2a0"/>
<rect x="277.49" y="335.4" width="2.1" height="2.6" fill="#1767d9"/>
<rect x="280.48" y="335.0" width="2.7" height="1.8" fill="#f23645"/>
<rect x="283.78" y="337.0" width="2.7" height="8.5" fill="#f23645"/>
<rect x="287.07" y="345.5" width="2.7" height="20.0" fill="#f23645"/>
<rect x="290.26" y="357.9" width="2.9" height="7.8" fill="#52b2a0"/>
<rect x="290.66" y="358.4" width="2.1" height="6.6" fill="#1767d9"/>
<rect x="293.66" y="358.0" width="2.7" height="11.0" fill="#f23645"/>
<rect x="296.95" y="369.0" width="2.7" height="5.5" fill="#f23645"/>
<rect x="300.24" y="374.5" width="2.7" height="8.0" fill="#f23645"/>
<rect x="303.53" y="382.5" width="2.7" height="2.5" fill="#f23645"/>
<rect x="306.83" y="384.3" width="2.7" height="1.0" fill="#f23645"/>
<rect x="310.12" y="385.0" width="2.7" height="1.0" fill="#f23645"/>
<rect x="313.31" y="384.7" width="2.9" height="1.5" fill="#52b2a0"/>
<rect x="313.71" y="385.2" width="2.1" height="0.3" fill="#1767d9"/>
<rect x="316.71" y="384.5" width="2.7" height="3.0" fill="#f23645"/>
<rect x="319.90" y="383.9" width="2.9" height="3.3" fill="#52b2a0"/>
<rect x="320.30" y="384.4" width="2.1" height="2.1" fill="#1767d9"/>
<rect x="323.29" y="383.5" width="2.7" height="6.5" fill="#f23645"/>
<rect x="326.49" y="387.9" width="2.9" height="1.3" fill="#52b2a0"/>
<rect x="326.89" y="388.4" width="2.1" height="0.1" fill="#1767d9"/>
<rect x="329.88" y="388.5" width="2.7" height="4.5" fill="#f23645"/>
<rect x="333.17" y="392.2" width="2.7" height="1.6" fill="#f23645"/>
<rect x="336.36" y="392.9" width="2.9" height="1.3" fill="#52b2a0"/>
<rect x="336.76" y="393.4" width="2.1" height="0.1" fill="#1767d9"/>
<rect x="339.76" y="393.5" width="2.7" height="4.0" fill="#f23645"/>
<rect x="343.05" y="398.0" width="2.7" height="1.0" fill="#f23645"/>
<rect x="346.24" y="395.9" width="2.9" height="2.5" fill="#52b2a0"/>
<rect x="346.64" y="396.4" width="2.1" height="1.3" fill="#1767d9"/>
<rect x="349.64" y="396.0" width="2.7" height="4.0" fill="#f23645"/>
<rect x="352.83" y="396.7" width="2.9" height="3.3" fill="#52b2a0"/>
<rect x="353.23" y="397.2" width="2.1" height="2.1" fill="#1767d9"/>
<rect x="356.22" y="396.0" width="2.7" height="1.5" fill="#f23645"/>
<rect x="359.52" y="397.5" width="2.7" height="10.0" fill="#f23645"/>
<rect x="362.81" y="407.0" width="2.7" height="2.0" fill="#f23645"/>
<rect x="366.10" y="409.0" width="2.7" height="4.0" fill="#f23645"/>
<rect x="369.29" y="411.9" width="2.9" height="1.8" fill="#52b2a0"/>
<rect x="369.69" y="412.4" width="2.1" height="0.6" fill="#1767d9"/>
<rect x="372.69" y="411.2" width="2.7" height="1.3" fill="#f23645"/>
<rect x="375.88" y="411.9" width="2.9" height="1.8" fill="#52b2a0"/>
<rect x="376.28" y="412.4" width="2.1" height="0.6" fill="#1767d9"/>
<rect x="379.17" y="400.4" width="2.9" height="12.3" fill="#52b2a0"/>
<rect x="379.57" y="400.9" width="2.1" height="11.1" fill="#1767d9"/>
<rect x="382.57" y="399.0" width="2.7" height="9.5" fill="#f23645"/>
<rect x="385.86" y="409.0" width="2.7" height="3.5" fill="#f23645"/>
<rect x="389.05" y="403.4" width="2.9" height="9.3" fill="#52b2a0"/>
<rect x="389.45" y="403.9" width="2.1" height="8.1" fill="#1767d9"/>
<rect x="392.35" y="392.7" width="2.9" height="11.5" fill="#52b2a0"/>
<rect x="392.75" y="393.2" width="2.1" height="10.3" fill="#1767d9"/>
<rect x="395.74" y="393.0" width="2.7" height="7.8" fill="#f23645"/>
<rect x="398.93" y="398.1" width="2.9" height="2.1" fill="#52b2a0"/>
<rect x="399.33" y="398.6" width="2.1" height="0.9" fill="#1767d9"/>
<rect x="402.32" y="398.0" width="2.7" height="5.5" fill="#f23645"/>
<rect x="405.62" y="403.5" width="2.7" height="6.5" fill="#f23645"/>
<rect x="408.81" y="403.9" width="2.9" height="6.3" fill="#52b2a0"/>
<rect x="409.21" y="404.4" width="2.1" height="5.1" fill="#1767d9"/>
<rect x="412.10" y="398.1" width="2.9" height="6.3" fill="#52b2a0"/>
<rect x="412.50" y="398.6" width="2.1" height="5.1" fill="#1767d9"/>
<rect x="415.50" y="398.0" width="2.7" height="5.0" fill="#f23645"/>
<rect x="418.69" y="400.7" width="2.9" height="2.5" fill="#52b2a0"/>
<rect x="419.09" y="401.2" width="2.1" height="1.3" fill="#1767d9"/>
<rect x="421.98" y="398.4" width="2.9" height="2.3" fill="#52b2a0"/>
<rect x="422.38" y="398.9" width="2.1" height="1.1" fill="#1767d9"/>
<rect x="425.38" y="398.8" width="2.7" height="1.0" fill="#f23645"/>
<rect x="428.57" y="397.1" width="2.9" height="2.9" fill="#52b2a0"/>
<rect x="428.97" y="397.6" width="2.1" height="1.7" fill="#1767d9"/>
<rect x="431.96" y="397.0" width="2.7" height="9.0" fill="#f23645"/>
<rect x="435.15" y="403.2" width="2.9" height="3.0" fill="#52b2a0"/>
<rect x="435.55" y="403.8" width="2.1" height="1.8" fill="#1767d9"/>
<rect x="438.55" y="403.0" width="2.7" height="1.8" fill="#f23645"/>
<rect x="441.84" y="404.5" width="2.7" height="2.5" fill="#f23645"/>
<rect x="445.03" y="403.9" width="2.9" height="2.8" fill="#52b2a0"/>
<rect x="445.43" y="404.4" width="2.1" height="1.6" fill="#1767d9"/>
<rect x="448.33" y="403.1" width="2.9" height="1.6" fill="#52b2a0"/>
<rect x="448.73" y="403.6" width="2.1" height="0.4" fill="#1767d9"/>
<rect x="451.62" y="384.4" width="2.9" height="18.6" fill="#52b2a0"/>
<rect x="452.02" y="384.9" width="2.1" height="17.4" fill="#1767d9"/>
<rect x="454.91" y="370.4" width="2.9" height="14.8" fill="#52b2a0"/>
<rect x="455.31" y="370.9" width="2.1" height="13.6" fill="#1767d9"/>
<rect x="458.31" y="371.0" width="2.7" height="5.5" fill="#f23645"/>
<rect x="461.50" y="368.4" width="2.9" height="8.8" fill="#52b2a0"/>
<rect x="461.90" y="368.9" width="2.1" height="7.6" fill="#1767d9"/>
<rect x="464.89" y="369.0" width="2.7" height="1.5" fill="#f23645"/>
<rect x="468.18" y="371.0" width="2.7" height="5.5" fill="#f23645"/>
<rect x="471.38" y="374.9" width="2.9" height="1.3" fill="#52b2a0"/>
<rect x="471.78" y="375.4" width="2.1" height="0.1" fill="#1767d9"/>
<rect x="474.77" y="375.0" width="2.7" height="3.5" fill="#f23645"/>
<rect x="477.96" y="371.4" width="2.9" height="7.8" fill="#52b2a0"/>
<rect x="478.36" y="371.9" width="2.1" height="6.6" fill="#1767d9"/>
<rect x="481.36" y="371.5" width="2.7" height="10.5" fill="#f23645"/>
<rect x="484.55" y="381.1" width="2.9" height="1.6" fill="#52b2a0"/>
<rect x="484.95" y="381.6" width="2.1" height="0.4" fill="#1767d9"/>
<rect x="487.94" y="381.8" width="2.7" height="3.2" fill="#f23645"/>
<rect x="491.24" y="384.8" width="2.7" height="4.2" fill="#f23645"/>
<rect x="494.53" y="389.0" width="2.7" height="13.5" fill="#f23645"/>
<rect x="497.72" y="396.4" width="2.9" height="6.3" fill="#52b2a0"/>
<rect x="498.12" y="396.9" width="2.1" height="5.1" fill="#1767d9"/>
<rect x="501.11" y="397.0" width="2.7" height="7.0" fill="#f23645"/>
<rect x="504.31" y="393.4" width="2.9" height="10.3" fill="#52b2a0"/>
<rect x="504.71" y="393.9" width="2.1" height="9.1" fill="#1767d9"/>
<rect x="507.70" y="393.5" width="2.7" height="4.5" fill="#f23645"/>
<rect x="510.89" y="393.9" width="2.9" height="4.1" fill="#52b2a0"/>
<rect x="511.29" y="394.4" width="2.1" height="2.9" fill="#1767d9"/>
<rect x="514.19" y="390.9" width="2.9" height="3.5" fill="#52b2a0"/>
<rect x="514.59" y="391.4" width="2.1" height="2.3" fill="#1767d9"/>
<rect x="517.58" y="390.5" width="2.7" height="6.5" fill="#f23645"/>
<rect x="520.87" y="395.5" width="2.7" height="1.0" fill="#f23645"/>
<rect x="524.16" y="397.0" width="2.7" height="3.5" fill="#f23645"/>
<rect x="527.46" y="400.0" width="2.7" height="1.0" fill="#f23645"/>
<rect x="530.65" y="398.9" width="2.9" height="2.8" fill="#52b2a0"/>
<rect x="531.05" y="399.4" width="2.1" height="1.6" fill="#1767d9"/>
<rect x="533.94" y="398.4" width="2.9" height="1.3" fill="#52b2a0"/>
<rect x="534.34" y="398.9" width="2.1" height="0.1" fill="#1767d9"/>
<rect x="537.34" y="398.2" width="2.7" height="1.0" fill="#f23645"/>
<rect x="540.63" y="399.5" width="2.7" height="1.3" fill="#f23645"/>
<rect x="543.92" y="400.3" width="2.7" height="1.0" fill="#f23645"/>
<rect x="547.12" y="388.1" width="2.9" height="13.6" fill="#52b2a0"/>
<rect x="547.52" y="388.6" width="2.1" height="12.4" fill="#1767d9"/>
<rect x="550.51" y="388.0" width="2.7" height="3.0" fill="#f23645"/>
<rect x="553.70" y="389.4" width="2.9" height="2.0" fill="#52b2a0"/>
<rect x="554.10" y="389.9" width="2.1" height="0.8" fill="#1767d9"/>
<rect x="557.00" y="388.1" width="2.9" height="1.3" fill="#52b2a0"/>
<rect x="557.40" y="388.6" width="2.1" height="0.1" fill="#1767d9"/>
<rect x="560.29" y="387.4" width="2.9" height="1.3" fill="#52b2a0"/>
<rect x="560.69" y="387.9" width="2.1" height="0.1" fill="#1767d9"/>
<rect x="563.68" y="388.5" width="2.7" height="2.0" fill="#f23645"/>
<rect x="566.87" y="389.4" width="2.9" height="1.3" fill="#52b2a0"/>
<rect x="567.27" y="389.9" width="2.1" height="0.1" fill="#1767d9"/>
<rect x="570.27" y="389.8" width="2.7" height="1.7" fill="#f23645"/>
<rect x="573.56" y="390.8" width="2.7" height="3.2" fill="#f23645"/>
<rect x="576.75" y="390.1" width="2.9" height="3.6" fill="#52b2a0"/>
<rect x="577.15" y="390.6" width="2.1" height="2.4" fill="#1767d9"/>
<rect x="580.05" y="388.2" width="2.9" height="2.7" fill="#52b2a0"/>
<rect x="580.45" y="388.8" width="2.1" height="1.5" fill="#1767d9"/>
<rect x="583.44" y="388.3" width="2.7" height="3.2" fill="#f23645"/>
<rect x="586.73" y="391.0" width="2.7" height="2.5" fill="#f23645"/>
<rect x="589.92" y="392.9" width="2.9" height="1.3" fill="#52b2a0"/>
<rect x="590.33" y="393.4" width="2.1" height="0.1" fill="#1767d9"/>
<rect x="593.22" y="390.4" width="2.9" height="3.3" fill="#52b2a0"/>
<rect x="593.62" y="390.9" width="2.1" height="2.1" fill="#1767d9"/>
<rect x="596.51" y="388.9" width="2.9" height="2.1" fill="#52b2a0"/>
<rect x="596.91" y="389.4" width="2.1" height="0.9" fill="#1767d9"/>
<rect x="599.80" y="378.9" width="2.9" height="9.8" fill="#52b2a0"/>
<rect x="600.20" y="379.4" width="2.1" height="8.6" fill="#1767d9"/>
<rect x="603.10" y="374.9" width="2.9" height="4.8" fill="#52b2a0"/>
<rect x="603.50" y="375.4" width="2.1" height="3.6" fill="#1767d9"/>
<rect x="606.39" y="369.7" width="2.9" height="6.0" fill="#52b2a0"/>
<rect x="606.79" y="370.2" width="2.1" height="4.8" fill="#1767d9"/>
<rect x="609.78" y="369.8" width="2.7" height="9.2" fill="#f23645"/>
<rect x="612.98" y="375.4" width="2.9" height="4.3" fill="#52b2a0"/>
<rect x="613.38" y="375.9" width="2.1" height="3.1" fill="#1767d9"/>
<rect x="616.27" y="372.4" width="2.9" height="2.8" fill="#52b2a0"/>
<rect x="616.67" y="372.9" width="2.1" height="1.6" fill="#1767d9"/>
<rect x="619.66" y="372.0" width="2.7" height="3.0" fill="#f23645"/>
<rect x="622.96" y="374.8" width="2.7" height="1.2" fill="#f23645"/>
<rect x="626.25" y="376.0" width="2.7" height="1.5" fill="#f23645"/>
<rect x="629.54" y="377.8" width="2.7" height="2.7" fill="#f23645"/>
<rect x="632.73" y="377.9" width="2.9" height="2.8" fill="#52b2a0"/>
<rect x="633.13" y="378.4" width="2.1" height="1.6" fill="#1767d9"/>
<rect x="636.13" y="377.2" width="2.7" height="6.3" fill="#f23645"/>
<rect x="639.32" y="381.1" width="2.9" height="1.6" fill="#52b2a0"/>
<rect x="639.72" y="381.6" width="2.1" height="0.4" fill="#1767d9"/>
<rect x="642.61" y="379.9" width="2.9" height="2.3" fill="#52b2a0"/>
<rect x="643.01" y="380.4" width="2.1" height="1.1" fill="#1767d9"/>
<rect x="645.91" y="376.9" width="2.9" height="3.1" fill="#52b2a0"/>
<rect x="646.31" y="377.4" width="2.1" height="1.9" fill="#1767d9"/>
<rect x="649.30" y="376.5" width="2.7" height="8.0" fill="#f23645"/>
<rect x="652.49" y="382.9" width="2.9" height="1.8" fill="#52b2a0"/>
<rect x="652.89" y="383.4" width="2.1" height="0.6" fill="#1767d9"/>
<rect x="655.78" y="381.4" width="2.9" height="1.3" fill="#52b2a0"/>
<rect x="656.19" y="381.9" width="2.1" height="0.1" fill="#1767d9"/>
<rect x="659.08" y="381.1" width="2.9" height="1.3" fill="#52b2a0"/>
<rect x="659.48" y="381.6" width="2.1" height="0.1" fill="#1767d9"/>
<rect x="662.37" y="379.4" width="2.9" height="2.3" fill="#52b2a0"/>
<rect x="662.77" y="379.9" width="2.1" height="1.1" fill="#1767d9"/>
<rect x="665.76" y="380.0" width="2.7" height="1.0" fill="#f23645"/>
<rect x="669.06" y="380.0" width="2.7" height="4.8" fill="#f23645"/>
<rect x="672.25" y="377.4" width="2.9" height="7.3" fill="#52b2a0"/>
<rect x="672.65" y="377.9" width="2.1" height="6.1" fill="#1767d9"/>
<rect x="675.54" y="369.9" width="2.9" height="7.8" fill="#52b2a0"/>
<rect x="675.94" y="370.4" width="2.1" height="6.6" fill="#1767d9"/>
<rect x="678.84" y="368.9" width="2.9" height="1.3" fill="#52b2a0"/>
<rect x="679.24" y="369.4" width="2.1" height="0.1" fill="#1767d9"/>
<rect x="682.23" y="369.2" width="2.7" height="4.3" fill="#f23645"/>
<rect x="685.52" y="372.5" width="2.7" height="1.5" fill="#f23645"/>
<rect x="688.82" y="373.5" width="2.7" height="3.5" fill="#f23645"/>
<rect x="692.11" y="377.0" width="2.7" height="3.0" fill="#f23645"/>
<rect x="695.40" y="380.0" width="2.7" height="1.5" fill="#f23645"/>
<rect x="698.59" y="380.9" width="2.9" height="1.3" fill="#52b2a0"/>
<rect x="698.99" y="381.4" width="2.1" height="0.1" fill="#1767d9"/>
<rect x="701.89" y="380.1" width="2.9" height="1.6" fill="#52b2a0"/>
<rect x="702.29" y="380.6" width="2.1" height="0.4" fill="#1767d9"/>
<rect x="705.18" y="375.9" width="2.9" height="3.8" fill="#52b2a0"/>
<rect x="705.58" y="376.4" width="2.1" height="2.6" fill="#1767d9"/>
<rect x="708.47" y="374.7" width="2.9" height="1.3" fill="#52b2a0"/>
<rect x="708.87" y="375.2" width="2.1" height="0.1" fill="#1767d9"/>
<rect x="711.87" y="375.0" width="2.7" height="3.5" fill="#f23645"/>
<rect x="715.16" y="378.8" width="2.7" height="3.2" fill="#f23645"/>
<rect x="718.45" y="381.5" width="2.7" height="6.5" fill="#f23645"/>
<rect x="721.75" y="388.2" width="2.7" height="1.6" fill="#f23645"/>
<rect x="725.04" y="389.0" width="2.7" height="1.0" fill="#f23645"/>
<rect x="728.33" y="389.5" width="2.7" height="1.0" fill="#f23645"/>
<rect x="731.62" y="389.8" width="2.7" height="4.2" fill="#f23645"/>
<rect x="734.82" y="388.9" width="2.9" height="4.8" fill="#52b2a0"/>
<rect x="735.22" y="389.4" width="2.1" height="3.6" fill="#1767d9"/>
<rect x="738.21" y="388.2" width="2.7" height="1.0" fill="#f23645"/>
<rect x="741.50" y="388.8" width="2.7" height="4.7" fill="#f23645"/>
<rect x="744.80" y="393.0" width="2.7" height="5.0" fill="#f23645"/>
<rect x="748.09" y="397.2" width="2.7" height="7.0" fill="#f23645"/>
<rect x="751.28" y="397.1" width="2.9" height="7.3" fill="#52b2a0"/>
<rect x="751.68" y="397.6" width="2.1" height="6.1" fill="#1767d9"/>
<rect x="754.68" y="396.8" width="2.7" height="1.2" fill="#f23645"/>
<rect x="757.97" y="397.8" width="2.7" height="3.2" fill="#f23645"/>
<rect x="761.26" y="401.2" width="2.7" height="1.8" fill="#f23645"/>
<rect x="764.45" y="402.4" width="2.9" height="1.3" fill="#52b2a0"/>
<rect x="764.85" y="402.9" width="2.1" height="0.1" fill="#1767d9"/>
<rect x="767.75" y="402.1" width="2.9" height="1.3" fill="#52b2a0"/>
<rect x="768.15" y="402.6" width="2.1" height="0.1" fill="#1767d9"/>
<rect x="771.04" y="401.1" width="2.9" height="2.1" fill="#52b2a0"/>
<rect x="771.44" y="401.6" width="2.1" height="0.9" fill="#1767d9"/>
<rect x="774.43" y="401.2" width="2.7" height="1.0" fill="#f23645"/>
<rect x="777.73" y="401.8" width="2.7" height="2.2" fill="#f23645"/>
<rect x="780.92" y="400.7" width="2.9" height="3.7" fill="#52b2a0"/>
<rect x="781.32" y="401.2" width="2.1" height="2.5" fill="#1767d9"/>
<rect x="784.21" y="399.4" width="2.9" height="1.3" fill="#52b2a0"/>
<rect x="784.61" y="399.9" width="2.1" height="0.1" fill="#1767d9"/>
<rect x="787.61" y="399.5" width="2.7" height="3.5" fill="#f23645"/>
<rect x="790.90" y="402.2" width="2.7" height="1.0" fill="#f23645"/>
<rect x="794.09" y="402.1" width="2.9" height="1.3" fill="#52b2a0"/>
<rect x="794.49" y="402.6" width="2.1" height="0.1" fill="#1767d9"/>
<rect x="797.48" y="402.2" width="2.7" height="1.0" fill="#f23645"/>
<rect x="800.68" y="380.9" width="2.9" height="22.8" fill="#52b2a0"/>
<rect x="801.08" y="381.4" width="2.1" height="21.6" fill="#1767d9"/>
<rect x="804.07" y="379.8" width="2.7" height="1.0" fill="#f23645"/>
<rect x="807.26" y="379.4" width="2.9" height="2.3" fill="#52b2a0"/>
<rect x="807.66" y="379.9" width="2.1" height="1.1" fill="#1767d9"/>
<rect x="810.56" y="370.9" width="2.9" height="9.3" fill="#52b2a0"/>
<rect x="810.96" y="371.4" width="2.1" height="8.1" fill="#1767d9"/>
<rect x="813.95" y="371.0" width="2.7" height="3.8" fill="#f23645"/>
<rect x="817.14" y="367.9" width="2.9" height="7.1" fill="#52b2a0"/>
<rect x="817.54" y="368.4" width="2.1" height="5.9" fill="#1767d9"/>
<rect x="820.54" y="366.8" width="2.7" height="1.0" fill="#f23645"/>
<rect x="823.73" y="365.9" width="2.9" height="2.1" fill="#52b2a0"/>
<rect x="824.13" y="366.4" width="2.1" height="0.9" fill="#1767d9"/>
<rect x="827.02" y="365.4" width="2.9" height="1.6" fill="#52b2a0"/>
<rect x="827.42" y="365.9" width="2.1" height="0.4" fill="#1767d9"/>
<rect x="830.31" y="353.1" width="2.9" height="12.6" fill="#52b2a0"/>
<rect x="830.71" y="353.6" width="2.1" height="11.4" fill="#1767d9"/>
<rect x="833.61" y="351.9" width="2.9" height="1.3" fill="#52b2a0"/>
<rect x="834.01" y="352.4" width="2.1" height="0.1" fill="#1767d9"/>
<rect x="836.90" y="348.9" width="2.9" height="3.5" fill="#52b2a0"/>
<rect x="837.30" y="349.4" width="2.1" height="2.3" fill="#1767d9"/>
<rect x="840.29" y="348.5" width="2.7" height="1.0" fill="#f23645"/>
<rect x="843.49" y="347.4" width="2.9" height="2.3" fill="#52b2a0"/>
<rect x="843.89" y="347.9" width="2.1" height="1.1" fill="#1767d9"/>
<rect x="846.78" y="343.1" width="2.9" height="4.6" fill="#52b2a0"/>
<rect x="847.18" y="343.6" width="2.1" height="3.4" fill="#1767d9"/>
<rect x="850.17" y="343.0" width="2.7" height="5.5" fill="#f23645"/>
<rect x="853.37" y="341.4" width="2.9" height="6.8" fill="#52b2a0"/>
<rect x="853.77" y="341.9" width="2.1" height="5.6" fill="#1767d9"/>
<rect x="856.66" y="333.4" width="2.9" height="7.8" fill="#52b2a0"/>
<rect x="857.06" y="333.9" width="2.1" height="6.6" fill="#1767d9"/>
<rect x="859.95" y="320.9" width="2.9" height="12.8" fill="#52b2a0"/>
<rect x="860.35" y="321.4" width="2.1" height="11.6" fill="#1767d9"/>
<rect x="863.24" y="316.4" width="2.9" height="4.3" fill="#52b2a0"/>
<rect x="863.64" y="316.9" width="2.1" height="3.1" fill="#1767d9"/>
<rect x="866.64" y="317.0" width="2.7" height="9.0" fill="#f23645"/>
<rect x="869.83" y="315.9" width="2.9" height="10.3" fill="#52b2a0"/>
<rect x="870.23" y="316.4" width="2.1" height="9.1" fill="#1767d9"/>
<rect x="873.12" y="313.7" width="2.9" height="2.3" fill="#52b2a0"/>
<rect x="873.52" y="314.2" width="2.1" height="1.1" fill="#1767d9"/>
<rect x="876.52" y="314.0" width="2.7" height="10.0" fill="#f23645"/>
<rect x="879.81" y="325.0" width="2.7" height="10.0" fill="#f23645"/>
<rect x="883.10" y="335.0" width="2.7" height="9.5" fill="#f23645"/>
<rect x="886.30" y="336.4" width="2.9" height="8.6" fill="#52b2a0"/>
<rect x="886.70" y="336.9" width="2.1" height="7.4" fill="#1767d9"/>
<rect x="889.59" y="322.9" width="2.9" height="13.8" fill="#52b2a0"/>
<rect x="889.99" y="323.4" width="2.1" height="12.6" fill="#1767d9"/>
<rect x="892.98" y="323.3" width="2.7" height="1.0" fill="#f23645"/>
<rect x="896.17" y="317.9" width="2.9" height="6.8" fill="#52b2a0"/>
<rect x="896.57" y="318.4" width="2.1" height="5.6" fill="#1767d9"/>
<rect x="899.47" y="310.1" width="2.9" height="8.3" fill="#52b2a0"/>
<rect x="899.87" y="310.6" width="2.1" height="7.1" fill="#1767d9"/>
<rect x="902.76" y="303.1" width="2.9" height="7.3" fill="#52b2a0"/>
<rect x="903.16" y="303.6" width="2.1" height="6.1" fill="#1767d9"/>
<rect x="906.05" y="300.4" width="2.9" height="2.6" fill="#52b2a0"/>
<rect x="906.45" y="300.9" width="2.1" height="1.4" fill="#1767d9"/>
<rect x="909.35" y="290.1" width="2.9" height="9.9" fill="#52b2a0"/>
<rect x="909.75" y="290.6" width="2.1" height="8.7" fill="#1767d9"/>
<rect x="912.64" y="289.1" width="2.9" height="1.6" fill="#52b2a0"/>
<rect x="913.04" y="289.6" width="2.1" height="0.4" fill="#1767d9"/>
<rect x="916.03" y="289.2" width="2.7" height="1.8" fill="#f23645"/>
<rect x="919.23" y="285.9" width="2.9" height="5.1" fill="#52b2a0"/>
<rect x="919.63" y="286.4" width="2.1" height="3.9" fill="#1767d9"/>
<rect x="922.62" y="285.0" width="2.7" height="19.5" fill="#f23645"/>
<rect x="925.91" y="304.0" width="2.7" height="3.0" fill="#f23645"/>
<rect x="929.20" y="306.8" width="2.7" height="2.2" fill="#f23645"/>
<rect x="932.50" y="308.0" width="2.7" height="1.0" fill="#f23645"/>
<rect x="935.79" y="308.8" width="2.7" height="3.0" fill="#f23645"/>
<rect x="939.08" y="311.8" width="2.7" height="17.0" fill="#f23645"/>
<rect x="942.28" y="318.4" width="2.9" height="10.3" fill="#52b2a0"/>
<rect x="942.68" y="318.9" width="2.1" height="9.1" fill="#1767d9"/>
<rect x="945.67" y="318.5" width="2.7" height="3.3" fill="#f23645"/>
<rect x="948.86" y="306.7" width="2.9" height="15.0" fill="#52b2a0"/>
<rect x="949.26" y="307.2" width="2.1" height="13.8" fill="#1767d9"/>
<rect x="952.15" y="298.1" width="2.9" height="8.9" fill="#52b2a0"/>
<rect x="952.56" y="298.6" width="2.1" height="7.7" fill="#1767d9"/>
<rect x="955.55" y="298.2" width="2.7" height="2.8" fill="#f23645"/>
<rect x="958.84" y="301.0" width="2.7" height="3.0" fill="#f23645"/>
<rect x="962.03" y="240.8" width="2.9" height="62.8" fill="#52b2a0"/>
<rect x="962.43" y="241.4" width="2.1" height="61.6" fill="#1767d9"/>
<rect x="965.33" y="162.3" width="2.9" height="78.3" fill="#52b2a0"/>
<rect x="965.73" y="162.9" width="2.1" height="77.1" fill="#1767d9"/>
<rect x="968.62" y="70.8" width="2.9" height="91.8" fill="#52b2a0"/>
<rect x="969.02" y="71.5" width="2.1" height="90.6" fill="#1767d9"/>
<rect x="972.01" y="71.0" width="2.7" height="59.5" fill="#f23645"/>
<rect x="975.21" y="100.3" width="2.9" height="30.3" fill="#52b2a0"/>
<rect x="975.61" y="101.0" width="2.1" height="29.1" fill="#1767d9"/>
<rect x="978.60" y="100.0" width="2.7" height="17.5" fill="#f23645"/>
<rect x="981.89" y="118.0" width="2.7" height="30.5" fill="#f23645"/>
<rect x="985.19" y="148.5" width="2.7" height="5.0" fill="#f23645"/>
<rect x="988.38" y="137.3" width="2.9" height="16.3" fill="#52b2a0"/>
<rect x="988.78" y="137.9" width="2.1" height="15.1" fill="#1767d9"/>
</svg>
<div class="tag" style="top:190.2px"></div><div class="ax" style="top:191.4px;color:#fff;-webkit-text-stroke:0">0.2328</div>
<div class="tag" style="top:412.2px"></div><div class="ax" style="top:413.4px;color:#fff;-webkit-text-stroke:0">0.0679</div>
</body></html>
